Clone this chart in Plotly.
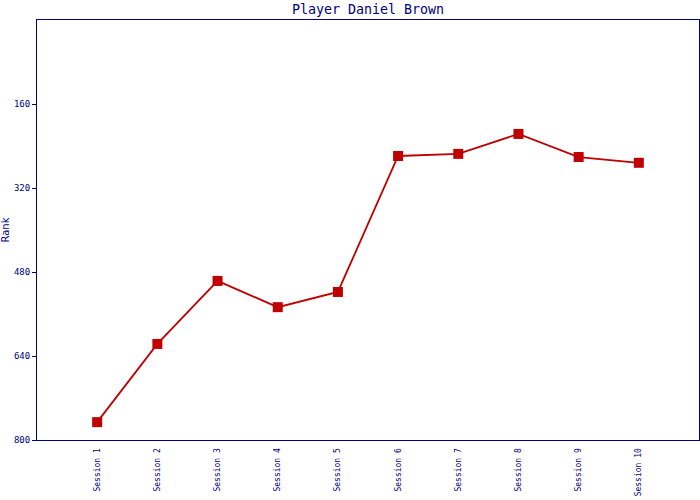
import plotly.graph_objects as go

sessions = ["Session 1", "Session 2", "Session 3", "Session 4", "Session 5",
            "Session 6", "Session 7", "Session 8", "Session 9", "Session 10"]
ranks = [766, 617, 497, 547, 518, 259, 255, 217, 261, 272]
y_ticks = [160, 320, 480, 640, 800]

navy = "#000080"
red = "#c00000"

fig = go.Figure()
fig.add_trace(go.Scatter(
    x=sessions, y=ranks, mode="lines+markers",
    line=dict(color=red, width=1.8),
    marker=dict(symbol="square", size=10, color=red),
    showlegend=False,
))

fig.update_layout(
    width=700, height=500,
    margin=dict(l=37, r=1, t=20, b=60, autoexpand=False),
    paper_bgcolor="white", plot_bgcolor="white",
    title=dict(text="Player Daniel Brown", x=0.5, xanchor="center", xref="paper",
               y=1 - 9 / 500, yanchor="middle",
               font=dict(family="DejaVu Sans Mono", size=13.3, color=navy)),
    xaxis=dict(
        range=[-1, 10], tickangle=-90, showgrid=False, zeroline=False,
        showline=True, linecolor=navy, linewidth=1, mirror=True,
        ticks="", automargin=False, ticklabelstandoff=4,
        tickfont=dict(family="DejaVu Sans Mono", size=8, color=navy),
    ),
    yaxis=dict(
        range=[800, 0], tickvals=y_ticks, showgrid=False, zeroline=False,
        showline=True, linecolor=navy, linewidth=1, mirror=True,
        ticks="outside", ticklen=4, tickcolor=navy, automargin=False,
        tickfont=dict(family="DejaVu Sans Mono", size=9, color=navy),
        title=dict(text="Rank", standoff=4,
                   font=dict(family="DejaVu Sans", size=10, color=navy)),
    ),
)

fig.write_html("out.html", config={"displayModeBar": False},
               post_script="document.body.style.margin='0';document.body.style.overflow='hidden';")
